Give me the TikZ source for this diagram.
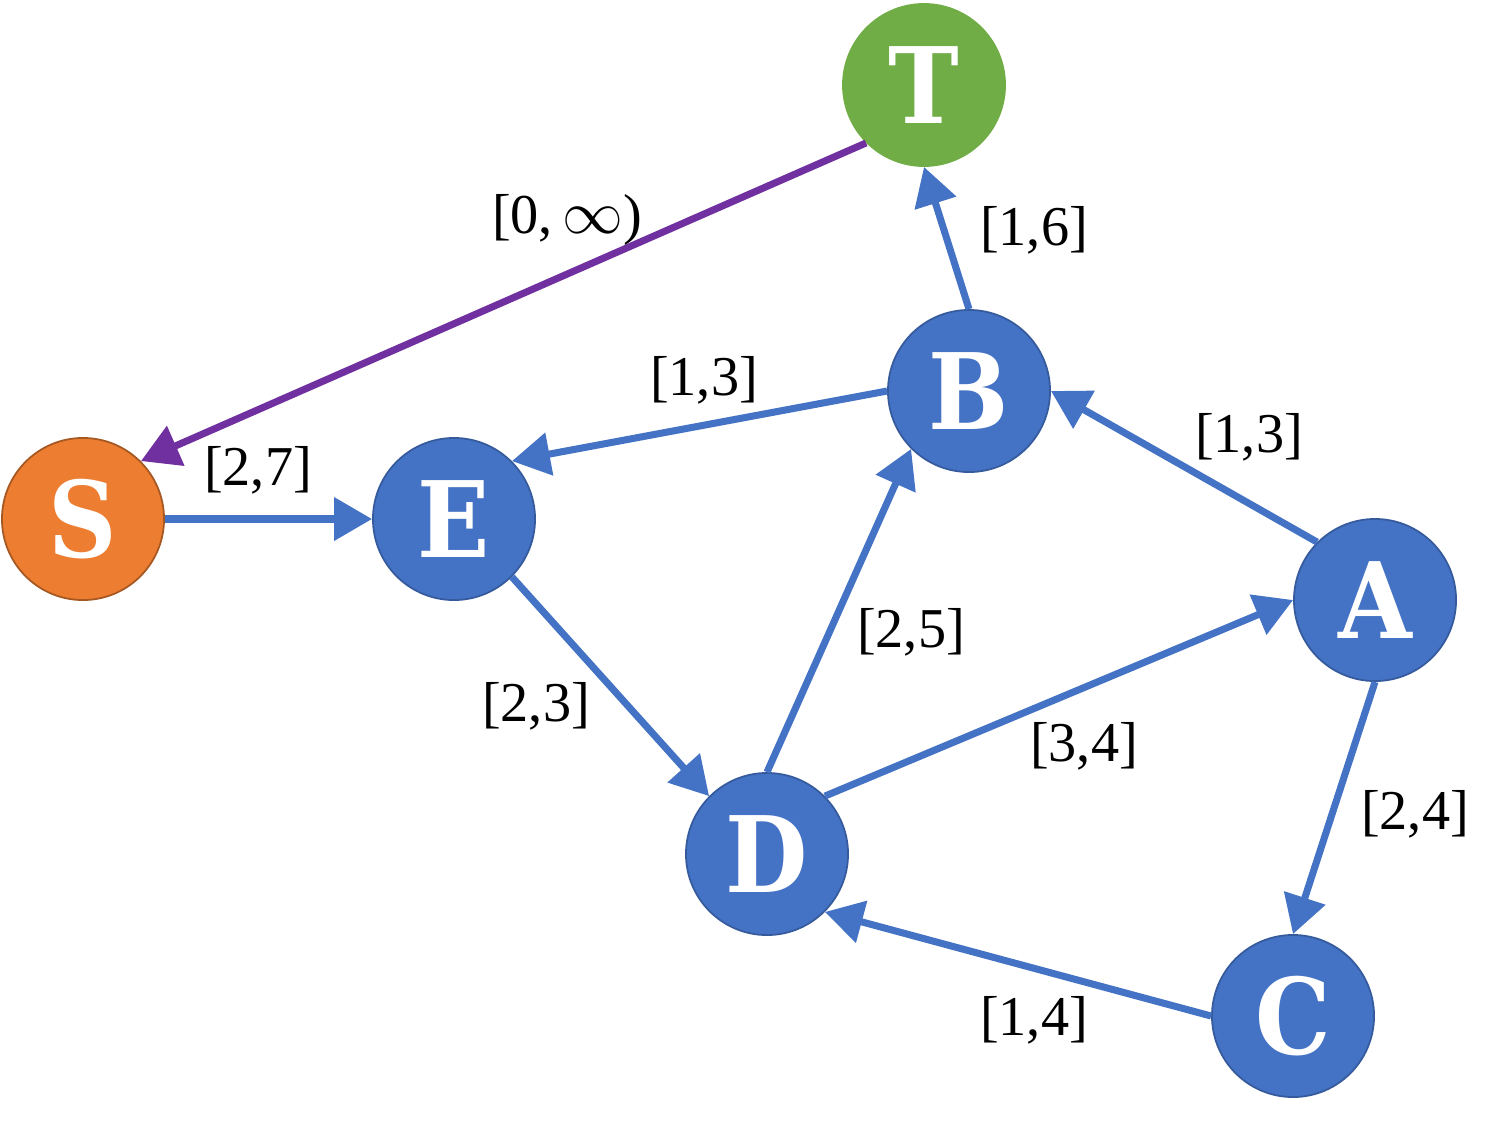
\documentclass[tikz,border=0pt]{standalone}
\usepackage{fontspec}
\setmainfont{Liberation Serif}
\newfontfamily\letterfont{DejaVu Serif Condensed}
\usetikzlibrary{arrows.meta}
\definecolor{vblue}{HTML}{4472C4}
\definecolor{vorange}{HTML}{ED7D31}
\definecolor{vgreen}{HTML}{70AD47}
\definecolor{vpurple}{HTML}{7030A0}
\tikzset{
  vert/.style={circle,fill=vblue,draw=vblue!80!black,line width=0.5pt,
    minimum size=1.62cm,inner sep=0pt,text=white,
    font=\letterfont\bfseries\fontsize{30}{36}\selectfont},
  vsrc/.style={vert,fill=vorange,draw=vorange!70!black},   % source
  vsink/.style={vert,fill=vgreen,draw=vgreen},            % sink
  link/.style={-{Triangle[length=3.8mm,width=4.2mm]},line width=2pt,draw=vblue},
  linkp/.style={link,draw=vpurple},                       % return arc
  bnd/.style={font=\fontsize{16}{19}\selectfont,inner sep=1pt},
}
\begin{document}
\begin{tikzpicture}[x=0.01cm,y=-0.01cm]
  \useasboundingbox (0,0) rectangle (1495,1130);
  \node[vsink](t) at (924,85){T};
  \node[vsrc](s) at (83,519){S};
  \node[vert](e) at (454,519){E};
  \node[vert](b) at (969,391){B};
  \node[vert](a) at (1375,600){A};
  \node[vert](d) at (767,854){D};
  \node[vert](c) at (1293,1016){C};

  \draw[linkp](t.south west)--(s.north east);
  \draw[link](s.east)--(e.west);
  \draw[link](b.north)--(t.south);
  \draw[link](b.west)--(e.north east);
  \draw[link](e.south east)--(d.north west);
  \draw[link](d.north)--(b.south west);
  \draw[link](d.north east)--(a.west);
  \draw[link](a.north west)--(b.east);
  \draw[link](a.south)--(c.north);
  \draw[link](c.west)--(d.south east);

  \node[bnd](lts) at (567,220){[0,\,$\infty$)};
  \node[bnd](lbt) at (1034,230){[1,6]};
  \node[bnd](lbe) at (704,380){[1,3]};
  \node[bnd](lab) at (1249,437){[1,3]};
  \node[bnd](lse) at (258,470){[2,7]};
  \node[bnd](ldb) at (911,632){[2,5]};
  \node[bnd](led) at (536,706){[2,3]};
  \node[bnd](lda) at (1084,746){[3,4]};
  \node[bnd](lac) at (1415,814){[2,4]};
  \node[bnd](lcd) at (1034,1020){[1,4]};
\end{tikzpicture}
\end{document}
